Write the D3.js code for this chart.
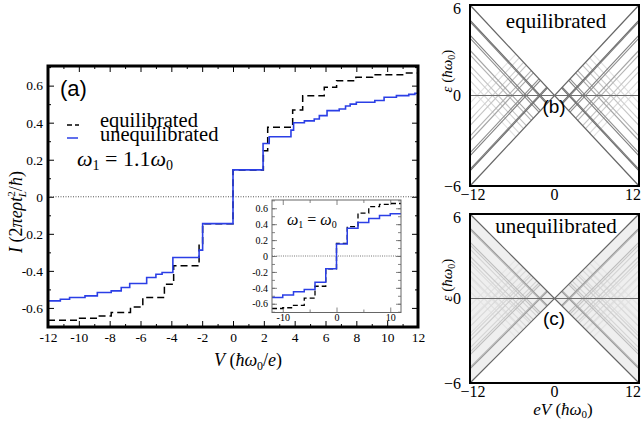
<!DOCTYPE html>
<html>
<head>
<meta charset="utf-8">
<title>I-V steps</title>
<script src="https://cdn.jsdelivr.net/npm/d3@7"></script>
<style>
  body { margin: 0; background: #fff; }
  text { font-family: "Liberation Serif", "DejaVu Serif", serif; }
  .sans { font-family: "Liberation Sans", Arial, sans-serif; }
</style>
</head>
<body>
<script>
// ---- data: main panel (a), omega1 = 1.1 omega0 ----
var eqV = [-12, -9.95, -8.87, -7.9, -6.65, -5.85, -4.45, -3.85, -2.2, -1.97, 0, 1.97, 2.25, 3.87, 4.52, 5.92, 6.72, 7.97, 9.05, 11.2];
var eqI = [-0.667, -0.656, -0.643, -0.625, -0.595, -0.544, -0.472, -0.373, -0.252, -0.145, 0.145, 0.249, 0.375, 0.469, 0.546, 0.591, 0.627, 0.645, 0.659, 0.668];

var unV = [-12, -11.2, -10.6, -9.6, -8.8, -7.9, -7.25, -6.7, -5.6, -5.0, -4.6, -3.9, -2.2, -1.97, 0, 1.95, 2.35, 3.76, 3.93, 4.63, 5.27, 5.6, 6.1, 6.89, 7.3, 7.6, 8.0, 9.2, 9.8, 10.6, 11.4, 11.8];
var unI = [-0.562, -0.553, -0.544, -0.535, -0.517, -0.508, -0.49, -0.468, -0.436, -0.418, -0.409, -0.328, -0.288, -0.145, 0.145, 0.288, 0.324, 0.36, 0.40, 0.41, 0.42, 0.438, 0.465, 0.474, 0.49, 0.50, 0.51, 0.52, 0.537, 0.546, 0.553, 0.559];

// ---- inset, omega1 = omega0 ----
var insV = [-12, -10, -8, -6, -4, -2, 0, 2, 4, 6, 8, 10];
var insEq = [-0.66, -0.65, -0.62, -0.53, -0.38, -0.16, 0.16, 0.37, 0.54, 0.62, 0.65, 0.66];
var insUn = [-0.52, -0.49, -0.45, -0.42, -0.33, -0.16, 0.15, 0.35, 0.42, 0.47, 0.51, 0.53];

// tick labels
var mainXTicks = [-12, -10, -8, -6, -4, -2, 0, 2, 4, 6, 8, 10, 12];
var mainXLabels = ["-12", "-10", "-8", "-6", "-4", "-2", "0", "2", "4", "6", "8", "10", "12"];
var mainYTicks = [-0.6, -0.4, -0.2, 0, 0.2, 0.4, 0.6];
var mainYLabels = ["-0.6", "-0.4", "0.2", "0", "0.2", "0.4", "0.6"];
var insXTicks = [-10, 0, 10];
var insXLabels = ["-10", "0", "10"];
var insYTicks = [-0.6, -0.4, -0.2, 0, 0.2, 0.4, 0.6];
var insYLabels = ["-0.6", "-0.4", "-0.2", "0", "0.2", "0.4", "0.6"];
var panelXTicks = [-12, 0, 12];
var panelXLabels = ["\u221212", "0", "12"];
var panelYTicks = [-6, 0, 6];
var panelYLabels = ["\u22126", "0", "6"];

// ---- panels (b), (c): resonance lines eps = +-V/2 +- d inside the side wedges ----
var bOffsets = [1, 1.1, 2, 2.2, 3, 3.3, 4, 4.4, 5, 5.5];
var bShades  = ["#6a6a6a", "#7a7a7a", "#808080", "#909090", "#a6a6a6", "#b4b4b4", "#c4c4c4", "#cecece", "#d8d8d8", "#e2e2e2"];
var cOffsets = [1, 1.1, 2, 2.2, 2.5, 3, 3.3, 3.5, 4, 4.4, 4.5, 5, 5.5];
var cShades  = ["#9a9a9a", "#b8b8b8", "#bcbcbc", "#c8c8c8", "#d4d4d4", "#cccccc", "#d4d4d4", "#dcdcdc", "#d8d8d8", "#dedede", "#e2e2e2", "#e0e0e0", "#e4e4e4"];

var W = 642, H = 428;
var svg = d3.select("body").append("svg").attr("width", W).attr("height", H);
svg.append("rect").attr("width", W).attr("height", H).attr("fill", "#fff");

function steps(xs, ys) {
  var pts = xs.map(function(v, i) { return [v, ys[i]]; });
  pts.push([12, ys[ys.length - 1]]);
  return pts;
}

// ================= panel (a) =================
var mx = d3.scaleLinear().domain([-12, 12]).range([48, 418]);
var my = d3.scaleLinear().domain([-0.703, 0.706]).range([327, 66]);

function tickAxis(axis, g, size) {
  g.call(axis.tickSize(size));
  g.select(".domain").remove();
  g.selectAll("line").attr("stroke", "#000").attr("stroke-width", 1);
}

var ax = svg.append("g");
// minor ticks
tickAxis(d3.axisBottom(mx).tickValues(d3.range(-11, 12, 2)).tickFormat(""), ax.append("g").attr("transform", "translate(0,327)"), -3);
tickAxis(d3.axisTop(mx).tickValues(d3.range(-11, 12, 2)).tickFormat(""), ax.append("g").attr("transform", "translate(0,66)"), -3);
tickAxis(d3.axisLeft(my).tickValues(d3.range(-0.7, 0.71, 0.2)).tickFormat(""), ax.append("g").attr("transform", "translate(48,0)"), -3);
tickAxis(d3.axisRight(my).tickValues(d3.range(-0.7, 0.71, 0.2)).tickFormat(""), ax.append("g").attr("transform", "translate(418,0)"), -3);
// major ticks
var gxb = ax.append("g").attr("transform", "translate(0,327)");
tickAxis(d3.axisBottom(mx).tickValues(mainXTicks).tickFormat(function(d, i) { return mainXLabels[i]; }).tickPadding(5), gxb, -6);
tickAxis(d3.axisTop(mx).tickValues(mainXTicks).tickFormat(""), ax.append("g").attr("transform", "translate(0,66)"), -6);
var gyl = ax.append("g").attr("transform", "translate(48,0)");
tickAxis(d3.axisLeft(my).tickValues(mainYTicks).tickFormat(function(d, i) { return mainYLabels[i]; }).tickPadding(5), gyl, -6);
tickAxis(d3.axisRight(my).tickValues(mainYTicks).tickFormat(""), ax.append("g").attr("transform", "translate(418,0)"), -6);
gxb.selectAll("text").attr("font-size", 13.5).attr("fill", "#000");
gyl.selectAll("text").attr("font-size", 13.5).attr("fill", "#000");

// zero line
svg.append("line").attr("x1", mx(-12)).attr("x2", mx(12)).attr("y1", my(0)).attr("y2", my(0))
  .attr("stroke", "#555").attr("stroke-width", 1).attr("stroke-dasharray", "1,1.5");

var mline = d3.line().x(function(d) { return mx(d[0]); }).y(function(d) { return my(d[1]); }).curve(d3.curveStepAfter);
svg.append("path").attr("d", mline(steps(eqV, eqI))).attr("fill", "none")
  .attr("stroke", "#000").attr("stroke-width", 1.5).attr("stroke-dasharray", "7,4");
svg.append("path").attr("d", mline(steps(unV, unI))).attr("fill", "none")
  .attr("stroke", "#2b3fe6").attr("stroke-width", 1.6);

// frame
svg.append("rect").attr("x", 48).attr("y", 66).attr("width", 370).attr("height", 261)
  .attr("fill", "none").attr("stroke", "#000").attr("stroke-width", 3);

// labels in (a)
svg.append("text").attr("class", "sans").attr("x", 60).attr("y", 96).attr("font-size", 22).text("(a)");
svg.append("line").attr("x1", 67).attr("x2", 79).attr("y1", 125).attr("y2", 125)
  .attr("stroke", "#000").attr("stroke-width", 1.3).attr("stroke-dasharray", "5,3");
svg.append("text").attr("x", 100).attr("y", 127).attr("font-size", 20.5).text("equilibrated");
svg.append("line").attr("x1", 67).attr("x2", 78).attr("y1", 138).attr("y2", 138)
  .attr("stroke", "#2b3fe6").attr("stroke-width", 1.5);
svg.append("text").attr("x", 100).attr("y", 141).attr("font-size", 20.5).text("unequilibrated");

var om = svg.append("text").attr("x", 77).attr("y", 166).attr("font-size", 22);
om.append("tspan").attr("font-style", "italic").text("\u03c9");
om.append("tspan").attr("font-size", 14).attr("dy", 4).text("1");
om.append("tspan").attr("dy", -4).text(" = 1.1");
om.append("tspan").attr("font-style", "italic").text("\u03c9");
om.append("tspan").attr("font-size", 14).attr("dy", 4).text("0");

// axis titles
var xt = svg.append("text").attr("x", 248).attr("y", 366).attr("font-size", 18).attr("text-anchor", "middle");
xt.append("tspan").attr("font-style", "italic").text("V");
xt.append("tspan").text(" (");
xt.append("tspan").attr("font-style", "italic").text("\u0127\u03c9");
xt.append("tspan").attr("font-size", 12).attr("dy", 4).text("0");
xt.append("tspan").attr("dy", -4).text("/");
xt.append("tspan").attr("font-style", "italic").text("e");
xt.append("tspan").text(")");

var yt = svg.append("text").attr("transform", "translate(22,212) rotate(-90)").attr("font-size", 18).attr("text-anchor", "middle");
yt.append("tspan").attr("font-style", "italic").text("I");
yt.append("tspan").text(" (2");
yt.append("tspan").attr("font-style", "italic").text("\u03c0e\u03c1t");
yt.append("tspan").attr("font-size", 11).attr("dy", -7).text("2");
yt.append("tspan").attr("font-size", 11).attr("font-style", "italic").attr("dx", -6).attr("dy", 11).text("L");
yt.append("tspan").attr("dy", -4).text("/");
yt.append("tspan").attr("font-style", "italic").text("\u0127");
yt.append("tspan").text(")");

// ================= inset =================
var ix = d3.scaleLinear().domain([-12, 12]).range([272, 401]);
var iy = d3.scaleLinear().domain([-0.71, 0.704]).range([312.5, 200]);
svg.append("rect").attr("x", 272).attr("y", 200).attr("width", 129).attr("height", 112.5).attr("fill", "#fff");

var ia = svg.append("g");
function thin(axis, g, size) {
  g.call(axis.tickSize(size));
  g.select(".domain").remove();
  g.selectAll("line").attr("stroke", "#666").attr("stroke-width", 0.8);
}
thin(d3.axisLeft(iy).tickValues(d3.range(-0.7, 0.71, 0.1)).tickFormat(""), ia.append("g").attr("transform", "translate(272,0)"), -3);
thin(d3.axisRight(iy).tickValues(d3.range(-0.7, 0.71, 0.1)).tickFormat(""), ia.append("g").attr("transform", "translate(401,0)"), -3);
thin(d3.axisBottom(ix).tickValues([-5, 5]).tickFormat(""), ia.append("g").attr("transform", "translate(0,312.5)"), -3);
thin(d3.axisTop(ix).tickValues([-5, 5]).tickFormat(""), ia.append("g").attr("transform", "translate(0,200)"), -3);
thin(d3.axisTop(ix).tickValues(insXTicks).tickFormat(""), ia.append("g").attr("transform", "translate(0,200)"), -5);
var ixb = ia.append("g").attr("transform", "translate(0,312.5)");
thin(d3.axisBottom(ix).tickValues(insXTicks).tickFormat(function(d, i) { return insXLabels[i]; }).tickPadding(1), ixb, -5);
var iyl = ia.append("g").attr("transform", "translate(272,0)");
thin(d3.axisLeft(iy).tickValues(insYTicks).tickFormat(function(d, i) { return insYLabels[i]; }).tickPadding(4), iyl, -5);
thin(d3.axisRight(iy).tickValues(insYTicks).tickFormat(""), ia.append("g").attr("transform", "translate(401,0)"), -5);
ixb.selectAll("text").attr("font-size", 10).attr("fill", "#000");
iyl.selectAll("text").attr("font-size", 10).attr("fill", "#000");

svg.append("line").attr("x1", ix(-12)).attr("x2", ix(12)).attr("y1", iy(0)).attr("y2", iy(0))
  .attr("stroke", "#777").attr("stroke-width", 1).attr("stroke-dasharray", "1,1.2");

var iline = d3.line().x(function(d) { return ix(d[0]); }).y(function(d) { return iy(d[1]); }).curve(d3.curveStepAfter);
svg.append("path").attr("d", iline(steps(insV, insEq))).attr("fill", "none")
  .attr("stroke", "#000").attr("stroke-width", 1.3).attr("stroke-dasharray", "5,3");
svg.append("path").attr("d", iline(steps(insV, insUn))).attr("fill", "none")
  .attr("stroke", "#2b3fe6").attr("stroke-width", 1.5);
svg.append("rect").attr("x", 272).attr("y", 200).attr("width", 129).attr("height", 112.5)
  .attr("fill", "none").attr("stroke", "#666").attr("stroke-width", 1);

var io = svg.append("text").attr("x", 287).attr("y", 225).attr("font-size", 16);
io.append("tspan").attr("font-style", "italic").text("\u03c9");
io.append("tspan").attr("font-size", 10).attr("dy", 3).text("1");
io.append("tspan").attr("dy", -3).text(" = ");
io.append("tspan").attr("font-style", "italic").text("\u03c9");
io.append("tspan").attr("font-size", 10).attr("dy", 3).text("0");

// ================= panels (b) and (c) =================
var px = d3.scaleLinear().domain([-12, 12]).range([470, 639]);

function wedgeSegments(d) {
  // four segments for offset d, two in each side wedge
  return [
    [[-12, 6 - d], [-d, -d / 2]],
    [[-12, -6 + d], [-d, d / 2]],
    [[d, -d / 2], [12, 6 - d]],
    [[d, d / 2], [12, -6 + d]]
  ];
}

function panel(y0, y1, offsets, shades, fillWedges, title, tag, tagY, titleY, yTitleY) {
  var py = d3.scaleLinear().domain([-6, 6]).range([y1, y0]);
  var g = svg.append("g");
  var seg = d3.line().x(function(d) { return px(d[0]); }).y(function(d) { return py(d[1]); });
  if (fillWedges) {
    g.append("path").attr("d", seg([[-12, 6], [0, 0], [-12, -6]]) + "Z").attr("fill", "#efefef");
    g.append("path").attr("d", seg([[12, 6], [0, 0], [12, -6]]) + "Z").attr("fill", "#efefef");
  }
  // faint lines first
  for (var k = offsets.length - 1; k >= 0; k--) {
    wedgeSegments(offsets[k]).forEach(function(s) {
      g.append("path").attr("d", seg(s)).attr("fill", "none").attr("stroke", shades[k]).attr("stroke-width", 1.1);
    });
  }
  g.append("path").attr("d", seg([[-12, 6], [12, -6]])).attr("stroke", "#666").attr("stroke-width", 1.2);
  g.append("path").attr("d", seg([[-12, -6], [12, 6]])).attr("stroke", "#666").attr("stroke-width", 1.2);
  g.append("path").attr("d", seg([[-12, 0], [12, 0]])).attr("stroke", "#6e6e6e").attr("stroke-width", 1.2);
  g.append("rect").attr("x", px(-12)).attr("y", y0).attr("width", px(12) - px(-12)).attr("height", y1 - y0)
    .attr("fill", "none").attr("stroke", "#000").attr("stroke-width", 2);

  panelXTicks.forEach(function(t, i) {
    var anchor = i === 2 ? "end" : "middle";
    var xx = i === 0 ? px(t) + 3 : (i === 2 ? 641 : px(t));
    g.append("text").attr("x", xx).attr("y", y1 + 14).attr("font-size", 16)
      .attr("text-anchor", anchor).text(panelXLabels[i]);
  });
  panelYTicks.forEach(function(t, i) {
    var yy = py(t) + (t === 6 ? 3 : 0);
    g.append("text").attr("x", 461).attr("y", yy).attr("dy", "0.35em").attr("font-size", 16)
      .attr("text-anchor", "end").text(panelYLabels[i]);
  });
  var ytp = g.append("text").attr("transform", "translate(452," + yTitleY + ") rotate(-90)")
    .attr("font-size", 15).attr("text-anchor", "middle");
  ytp.append("tspan").attr("font-style", "italic").text("\u03b5");
  ytp.append("tspan").text(" (");
  ytp.append("tspan").attr("font-style", "italic").text("\u0127\u03c9");
  ytp.append("tspan").attr("font-size", 10).attr("dy", 3).text("0");
  ytp.append("tspan").attr("dy", -3).text(")");

  g.append("text").attr("x", 556).attr("y", titleY).attr("font-size", 21).attr("text-anchor", "middle").text(title);
  g.append("text").attr("class", "sans").attr("x", 554).attr("y", tagY).attr("font-size", 19)
    .attr("text-anchor", "middle").text(tag);
}

panel(5, 186, bOffsets, bShades, false, "equilibrated", "(b)", 113, 28, 71);
panel(214, 383, cOffsets, cShades, true, "unequilibrated", "(c)", 325, 233, 280);

var et = svg.append("text").attr("x", 563).attr("y", 415).attr("font-size", 17).attr("text-anchor", "middle");
et.append("tspan").attr("font-style", "italic").text("eV");
et.append("tspan").text(" (");
et.append("tspan").attr("font-style", "italic").text("\u0127\u03c9");
et.append("tspan").attr("font-size", 11).attr("dy", 3).text("0");
et.append("tspan").attr("dy", -3).text(")");
</script>
</body>
</html>
